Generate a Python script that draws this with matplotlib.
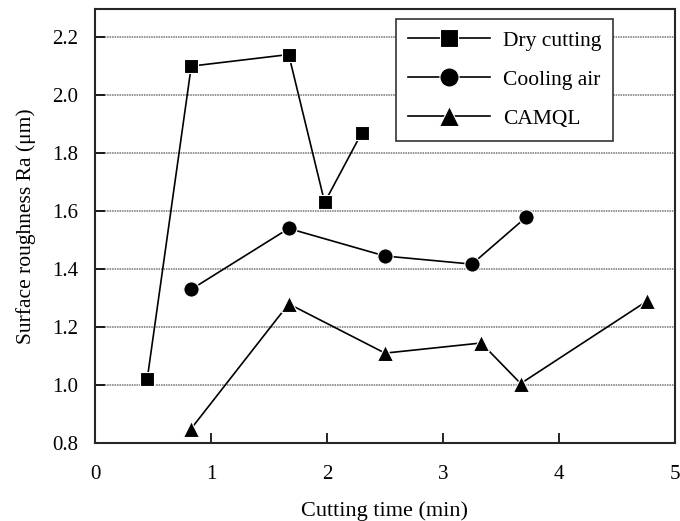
import numpy as np
import matplotlib
matplotlib.use('Agg')
import matplotlib.pyplot as plt

plt.rcParams['font.family'] = ['Liberation Serif', 'DejaVu Serif']

# Data
dry_x = [0.45, 0.83, 1.67, 1.98, 2.30]
dry_y = [1.02, 2.10, 2.14, 1.63, 1.87]

air_x = [0.83, 1.67, 2.50, 3.25, 3.72]
air_y = [1.33, 1.54, 1.445, 1.417, 1.58]

camql_x = [0.83, 1.67, 2.50, 3.33, 3.67, 4.76]
camql_y = [0.85, 1.28, 1.11, 1.145, 1.005, 1.29]

x_ticks = [0, 1, 2, 3, 4, 5]
y_ticks = [0.8, 1.0, 1.2, 1.4, 1.6, 1.8, 2.0, 2.2]

fig = plt.figure(figsize=(6.8, 5.21), dpi=100)
ax = fig.add_axes([0.1397, 0.1497, 0.8529, 0.833])

# lignes horizontales de la grille
for yv in y_ticks[1:]:
    ax.axhline(yv, color='0.45', lw=1.1, ls=(0, (1, 0.6)), zorder=1)

common = dict(color='black', lw=1.2, markeredgecolor='white', markeredgewidth=0.8, zorder=3)
ax.plot(dry_x, dry_y, marker='s', markersize=10, label='Dry cutting', **common)
ax.plot(air_x, air_y, marker='o', markersize=11, label='Cooling air', **common)
ax.plot(camql_x, camql_y, marker='^', markersize=12, label='CAMQL', **common)

ax.set_xlim(0, 5)
ax.set_ylim(0.8, 2.297)
ax.set_xticks(x_ticks)
ax.set_yticks(y_ticks)
ax.set_yticklabels([f'{v:.1f}' for v in y_ticks])
ax.tick_params(direction='in', length=7, width=1.2, labelsize=15, colors='black')
ax.tick_params(axis='x', pad=16)
ax.tick_params(axis='y', pad=12)

for s in ax.spines.values():
    s.set_linewidth(1.5)
    s.set_color('0.15')

ax.set_xlabel('Cutting time (min)', fontsize=16, labelpad=12)
ax.set_ylabel('Surface roughness Ra (μm)', fontsize=15.5, labelpad=12)

leg = ax.legend(loc='upper right', bbox_to_anchor=(0.912, 1.002), fontsize=15.5,
                handlelength=3.8, markerscale=1.25, frameon=True, fancybox=False,
                edgecolor='0.2', framealpha=1, borderpad=0.55, labelspacing=0.88,
                handletextpad=0.6)
leg.get_frame().set_linewidth(1.2)

fig.savefig('out.png', dpi=100)
